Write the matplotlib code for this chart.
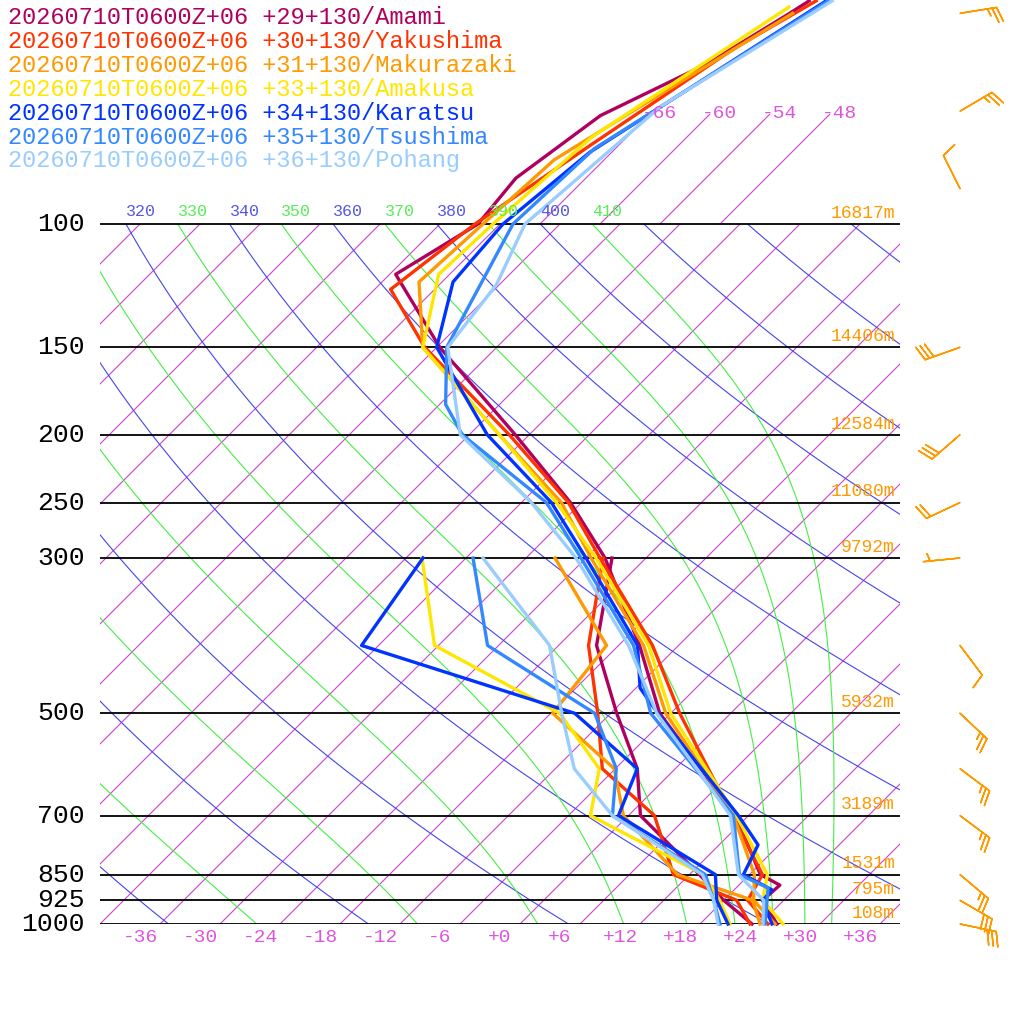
import numpy as np
import matplotlib.pyplot as plt
from matplotlib.patches import Rectangle

plt.rcParams['font.family'] = ['Liberation Mono', 'DejaVu Sans Mono']

stations = ['Amami', 'Yakushima', 'Makurazaki', 'Amakusa', 'Karatsu', 'Tsushima', 'Pohang']
coords = ['+29+130', '+30+130', '+31+130', '+33+130', '+34+130', '+35+130', '+36+130']
colors = ['#B0005F', '#FF3300', '#FF9900', '#FFE600', '#0033FF', '#3388FF', '#99CCFF']
stamp = '20260710T0600Z+06'

# temperature profiles (hPa, degC)
temp_p = {
    'Amami':      [1000, 925, 880, 850, 700, 500, 400, 300, 250, 200, 150, 118, 100, 86, 70, 59, 50, 48],
    'Yakushima':  [1000, 925, 850, 700, 500, 400, 300, 250, 200, 150, 124, 100, 77, 56, 48],
    'Makurazaki': [1000, 925, 850, 700, 500, 400, 300, 250, 200, 150, 121, 100, 81, 70, 50],
    'Amakusa':    [1000, 925, 850, 700, 500, 400, 300, 250, 200, 150, 118, 100, 75, 49],
    'Karatsu':    [1000, 925, 894, 850, 771, 700, 500, 460, 400, 300, 250, 200, 150, 121, 100, 79, 48],
    'Tsushima':   [1000, 888, 850, 700, 500, 400, 300, 250, 200, 181, 150, 100, 78, 48],
    'Pohang':     [1000, 925, 850, 700, 500, 400, 300, 250, 200, 150, 122, 100, 68, 48],
}
temp_t = {
    'Amami':      [27.7, 23.9, 24.1, 21.1, 12.7, -5.1, -13.9, -26.1, -35.1, -47.4, -63.7, -75.4, -72.2, -73.0, -70.8, -65.3, -62.1, -61.4],
    'Yakushima':  [26.8, 22.4, 21.3, 12.4, -3.1, -12.6, -26.6, -35.3, -48.0, -65.2, -74.4, -72.5, -68.8, -64.1, -60.7],
    'Makurazaki': [27.5, 23.0, 20.5, 12.5, -4.5, -13.5, -27.5, -36.0, -49.0, -65.4, -72.3, -71.7, -71.0, -68.3, -61.8],
    'Amakusa':    [28.3, 23.9, 21.8, 12.8, -4.0, -13.0, -27.0, -36.5, -49.0, -65.4, -71.1, -70.7, -69.5, -62.8],
    'Karatsu':    [27.2, 23.9, 23.8, 19.4, 17.9, 13.0, -5.3, -9.6, -14.1, -28.0, -37.0, -50.2, -64.0, -68.9, -69.7, -68.2, -59.7],
    'Tsushima':   [26.5, 23.2, 19.0, 12.5, -6.0, -14.5, -28.5, -37.5, -52.7, -57.4, -63.0, -68.7, -68.1, -59.5],
    'Pohang':     [26.3, 24.0, 18.9, 12.2, -5.4, -15.0, -29.0, -39.0, -52.9, -62.9, -64.3, -67.5, -65.7, -59.1],
}

# dewpoint profiles, 1000-300 hPa
dew_p = [1000, 925, 850, 700, 600, 500, 400, 300]
dew_t = {
    'Amami':      [25.2, 20.0, 15.0, 3.2, -1.8, -9.4, -18.2, -25.4],
    'Yakushima':  [25.0, 21.3, 12.4, 4.6, -5.3, -11.3, -19.0, -26.3],
    'Makurazaki': [26.0, 22.9, 12.8, 1.5, -4.1, -15.8, -17.2, -31.1],
    'Amakusa':    [23.0, 19.6, 15.4, -1.8, -5.6, -15.1, -34.4, -44.4],
    'Karatsu':    [22.8, 19.3, 16.6, 1.0, -1.8, -13.6, -41.7, -44.3],
    'Tsushima':   [22.0, 19.0, 15.6, 0.4, -3.9, -11.6, -29.1, -39.3],
    'Pohang':     [21.8, 19.0, 15.3, 0.4, -8.1, -14.9, -22.9, -38.3],
}

levels = [1000, 925, 850, 700, 500, 300, 250, 200, 150, 100]
heights = ['108m', '795m', '1531m', '3189m', '5932m', '9792m', '11080m', '12584m', '14406m', '16817m']

wind_p = [1000, 925, 850, 700, 600, 500, 400, 300, 250, 200, 150, 89, 69, 50]
wind_u = [-29, -24, -19, -20, -20, -18, -6, 5, 17, 23, 28, 4, -22, -25]
wind_v = [6, 14, 16, 15, 15, 17, 8, 0.5, 8, 20, 10, -8, -13, -4]

SK = 30.4


def sx(t, p):
    return np.asarray(t) + SK * np.log(1000.0 / np.asarray(p))


fig = plt.figure(figsize=(10.24, 10.24), dpi=100)
ax = fig.add_axes([100 / 1024, 100 / 1024, 800 / 1024, 924 / 1024])
ax.set_yscale('log')
ax.set_xlim(-40, 40)
ax.set_ylim(1000, 1000 * np.exp(-924 / 304))
ax.axis('off')

clip = Rectangle((-40, 100), 80, 900, transform=ax.transData, fill=False, visible=False)
ax.add_patch(clip)

pp = np.geomspace(1000, 100, 200)
iso_c = '#CC44CC'

# isotherms
for t in range(-160, 50, 6):
    ln, = ax.plot(sx(t, pp), pp, color=iso_c, lw=0.8)
    ln.set_clip_path(clip)
for t in range(-66, -47, 6):
    pt = np.geomspace(100, 69.7, 20)
    ax.plot(sx(t, pt), pt, color=iso_c, lw=0.8)
    ax.text(sx(t, 71.5), 71.5, f'{t:+d}', color='#DD55DD', fontsize=14, va='bottom', ha='left')

# dry adiabats
for th in range(200, 620, 20):
    tt = th * (pp / 1000) ** 0.2857 - 273.15
    ln, = ax.plot(sx(tt, pp), pp, color='#4444EE', lw=0.8)
    ln.set_clip_path(clip)
    if 320 <= th <= 400:
        ax.text(sx(tt[-1], 100), 98.5, str(th), color='#5555EE', fontsize=12, va='bottom')

# moist adiabats, labelled by potential temperature at 100 hPa
Rd, cp, Lv, eps = 287.0, 1005.0, 2.5e6, 0.622
pm = np.geomspace(100, 1000, 600)
for th in range(150, 420, 20):
    T = th * 0.1 ** 0.2857
    ts = [T]
    for i in range(1, len(pm)):
        p = pm[i - 1]
        es = 6.112 * np.exp(17.67 * (T - 273.15) / (T - 29.65))
        rs = eps * es / (p - es)
        dTdp = (Rd * T + Lv * rs) / (p * (cp + Lv ** 2 * rs * eps / (Rd * T ** 2)))
        T = T + dTdp * (pm[i] - p)
        ts.append(T)
    tc = np.array(ts) - 273.15
    ln, = ax.plot(sx(tc, pm), pm, color='#44EE44', lw=0.8)
    ln.set_clip_path(clip)
    if 330 <= th <= 410:
        ax.text(sx(tc[0], 100), 98.5, str(th), color='#55EE55', fontsize=12, va='bottom')

# pressure levels
for lev, h in zip(levels, heights):
    ax.plot([-40, 40], [lev, lev], color='black', lw=1.3)
    ax.text(39.5, lev * 0.993, h, color='#FF9900', fontsize=13, ha='right', va='bottom')
    ax.text(-41.5, lev, str(lev), color='black', fontsize=19, ha='right', va='center', clip_on=False)

for t in range(-36, 37, 6):
    ax.text(t, 1000 * 1.015, f'{t:+d}', color='#DD55DD', fontsize=14, ha='center', va='top', clip_on=False)

# profiles
for s, c in zip(stations, colors):
    ax.plot(sx(dew_t[s], dew_p), dew_p, color=c, lw=2.4, clip_on=False)
    ax.plot(sx(temp_t[s], temp_p[s]), temp_p[s], color=c, lw=2.4, clip_on=False)

ax.barbs(np.full(len(wind_p), 46.0), wind_p, wind_u, wind_v, color='#FF9900',
         length=7.3, linewidth=1.1, clip_on=False)

for i, (s, c, co) in enumerate(zip(stations, colors, coords)):
    fig.text(8 / 1024, 1 - (17 + 24 * i) / 1024, f'{stamp} {co}/{s}', color=c,
             fontsize=17, va='center', ha='left')

fig.savefig('out.png', dpi=100, facecolor='white')
